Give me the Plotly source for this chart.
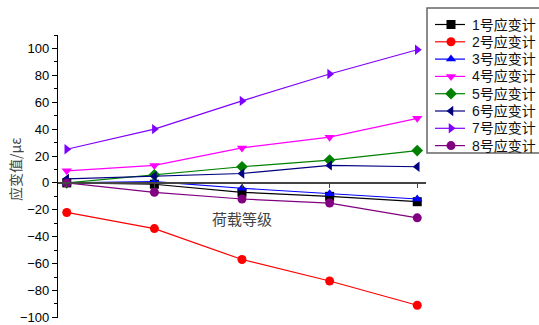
import plotly.graph_objects as go

# Load levels (categories on the x axis)
levels = [1, 2, 3, 4, 5]

# Strain readings (με) for each gauge at each load level
gauge_names = ["1号应变计", "2号应变计", "3号应变计", "4号应变计",
               "5号应变计", "6号应变计", "7号应变计", "8号应变计"]
g1 = [0, -1, -7, -10, -14]
g2 = [-22, -34, -57, -73, -91]
g3 = [0, 1, -4, -8, -12]
g4 = [9, 13, 26, 34, 48]
g5 = [0, 6, 12, 17, 24]
g6 = [3, 5, 7, 13, 12]
g7 = [25, 40, 61, 81, 99]
g8 = [0, -7, -12, -15, -26]

y_ticks = [-100, -80, -60, -40, -20, 0, 20, 40, 60, 80, 100]

series = [g1, g2, g3, g4, g5, g6, g7, g8]
colors = ["#000000", "#FF0000", "#0000FF", "#FF00FF",
          "#008000", "#000080", "#8000FF", "#800080"]
symbols = ["square", "circle", "triangle-up", "triangle-down",
           "diamond", "triangle-left", "triangle-right", "circle"]

W, H = 539, 325
ML, MR, MT, MB = 58, 0, 5, 7
PW, PH = W - ML - MR, H - MT - MB

def px_x(px):
    """Pixel column -> paper fraction."""
    return (px - ML) / PW

def px_y(py):
    """Pixel row (from top) -> paper fraction."""
    return (H - MB - py) / PH

y_min, y_max = -100.5, 110

fig = go.Figure()
for name, vals, c, s in zip(gauge_names, series, colors, symbols):
    fig.add_trace(go.Scatter(
        x=levels, y=vals, name=name, mode="lines+markers",
        line=dict(color=c, width=1.2),
        marker=dict(symbol=s, size=9, color=c, line=dict(width=0)),
        xaxis="x", yaxis="y",
    ))

# Legend panel: its own hidden axes measured in pixels from the box's top-left
leg_x0, leg_y0, leg_x1, leg_y1 = 427, 8, W + 2, 153
row_gap = 17.3
first_row = 16.5
for i, (name, c, s) in enumerate(zip(gauge_names, colors, symbols)):
    ry = first_row + i * row_gap
    fig.add_trace(go.Scatter(
        x=[8, 38], y=[ry, ry], mode="lines",
        line=dict(color=c, width=1.2),
        xaxis="x2", yaxis="y2", hoverinfo="skip",
    ))
    fig.add_trace(go.Scatter(
        x=[24], y=[ry], mode="markers",
        marker=dict(symbol=s, size=9, color=c, line=dict(width=0)),
        xaxis="x2", yaxis="y2", hoverinfo="skip",
    ))
    fig.add_annotation(
        x=43, y=ry, xref="x2", yref="y2", text=name, showarrow=False,
        xanchor="left", yanchor="middle",
        font=dict(family="Liberation Sans, Noto Sans CJK SC, sans-serif", size=14, color="#111"),
    )

fig.add_shape(
    type="rect", xref="paper", yref="paper",
    x0=px_x(leg_x0), x1=px_x(leg_x1), y0=px_y(leg_y1), y1=px_y(leg_y0),
    line=dict(color="#666", width=1.5), fillcolor="rgba(0,0,0,0)", layer="below",
)

# X-axis title placed under the zero line
fig.add_annotation(
    x=3, y=0, xref="x", yref="y", yshift=-36, text="荷载等级", showarrow=False,
    font=dict(family="Noto Sans CJK SC, sans-serif", size=15, color="#444"),
)

# Y-axis title, rotated, left of the tick labels
fig.add_annotation(
    x=px_x(15), y=px_y(170), xref="paper", yref="paper", text="应变值/με",
    textangle=-90, showarrow=False, xanchor="center", yanchor="middle",
    font=dict(family="Noto Sans CJK SC, sans-serif", size=14, color="#444"),
)

main_right = 426
fig.update_layout(
    width=W, height=H,
    margin=dict(l=ML, r=MR, t=MT, b=MB),
    paper_bgcolor="white", plot_bgcolor="white",
    font=dict(family="Liberation Sans, Arial, sans-serif", size=13, color="#000"),
    showlegend=False,
    xaxis=dict(
        domain=[0, px_x(main_right)],
        range=[0.9, 5.1], showgrid=False, zeroline=False,
        anchor="free", position=(0 - y_min) / (y_max - y_min) * px_y(35),
        showline=True, linecolor="#444", linewidth=1.5,
        tickvals=levels, ticks="outside", ticklen=4, tickcolor="#444",
        showticklabels=False,
    ),
    yaxis=dict(
        domain=[0, px_y(35)],
        range=[y_min, y_max], showgrid=False, zeroline=False,
        showline=True, linecolor="#000", linewidth=1.2,
        tickvals=y_ticks, ticks="outside", ticklen=5, tickcolor="#000",
        minor=dict(dtick=10, tick0=0, ticks="outside", ticklen=3, tickcolor="#000"),
        tickfont=dict(size=13),
    ),
    xaxis2=dict(
        domain=[px_x(leg_x0), 1], range=[0, W - leg_x0],
        visible=False, fixedrange=True, anchor="y2",
    ),
    yaxis2=dict(
        domain=[px_y(leg_y1), px_y(leg_y0)], range=[leg_y1 - leg_y0, 0],
        visible=False, fixedrange=True, anchor="x2",
    ),
)

fig.write_html("out.html")
